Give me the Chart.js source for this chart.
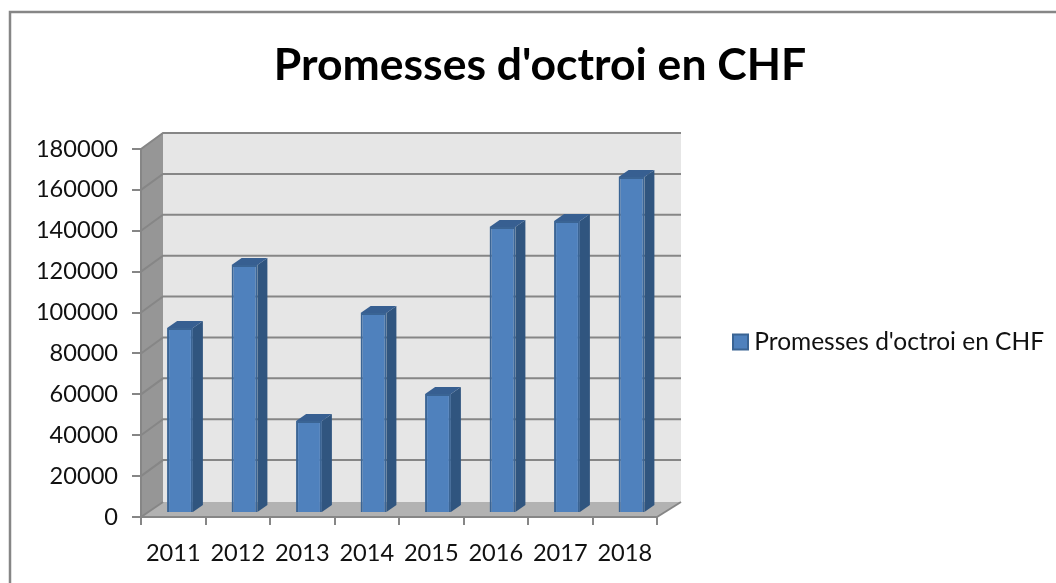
<!DOCTYPE html>
<html><head><meta charset="utf-8">
<style>html,body{margin:0;padding:0;background:#fff;overflow:hidden}#w{position:absolute;left:0;top:0;width:1056px;height:583px}canvas{display:block;filter:blur(0.55px)}</style>
<script src="https://cdn.jsdelivr.net/npm/chart.js@4/dist/chart.umd.min.js"></script>
</head><body><div id="w"><canvas id="c" width="1056" height="583"></canvas></div>
<script>
const categories = ['2011','2012','2013','2014','2015','2016','2017','2018'];
const seriesName = "Promesses d'octroi en CHF";
const seriesValues = [90500,121300,45000,97800,58200,139900,142800,164400];
const yMax = 180000, yStep = 20000;
const font = 'Lato, Carlito, Calibri, sans-serif';
const gridColor = '#868686';

const wall3d = {
  id:'wall3d',
  beforeDraw(chart){
    const {ctx,chartArea:a,scales:{y}} = chart;
    const dx=22, dy=16, extraRight=2;
    ctx.save();
    ctx.strokeStyle='#868686'; ctx.lineWidth=2.5;
    ctx.beginPath(); ctx.moveTo(1056,12); ctx.lineTo(10,12); ctx.lineTo(10,583); ctx.stroke();
    const bx=a.left+dx, br=a.right+dx+extraRight, t=a.top, b=a.bottom;
    ctx.fillStyle='#e6e6e6'; ctx.fillRect(bx,t-dy,br-bx,b-t+1);
    const poly=(c,p)=>{ctx.fillStyle=c;ctx.beginPath();p.forEach((q,i)=>i?ctx.lineTo(q[0],q[1]):ctx.moveTo(q[0],q[1]));ctx.closePath();ctx.fill();};
    poly('#969696',[[a.left,t],[bx,t-dy],[bx,b-dy+1],[a.left,b]]);
    poly('#b2b2b2',[[a.left,b],[bx,b-dy+1],[br,b-dy+1],[a.right,b]]);
    ctx.strokeStyle=gridColor; ctx.lineWidth=2;
    for(let v=yStep;v<=yMax;v+=yStep){
      const py=y.getPixelForValue(v);
      ctx.beginPath(); ctx.moveTo(a.left,py); ctx.lineTo(bx,py-dy); ctx.lineTo(br,py-dy); ctx.stroke();
    }
    ctx.beginPath(); ctx.moveTo(a.left,b); ctx.lineTo(bx,b-dy+1); ctx.stroke();
    ctx.beginPath(); ctx.moveTo(a.right,b); ctx.lineTo(br,b-dy+1); ctx.stroke();
    ctx.restore();
  },
  afterLayout(chart){
    const l=chart.legend;
    l.left=727; l.right=1044; l.top=328; l.bottom=356;
    const tt=chart.titleBlock;
    tt.left=0; tt.right=1080;
  },
  beforeDatasetsDraw(chart){
    const ctx=chart.ctx, dx=6.75, dy=-4, sx=10, sy=7;
    ctx.save();
    ctx.translate(dx,dy);
    chart.getDatasetMeta(0).data.forEach(el=>{
      const {x,y,base,width}=el.getProps(['x','y','base','width']);
      const l=x-width/2, r=x+width/2;
      ctx.fillStyle='#30557f';
      ctx.beginPath(); ctx.moveTo(r,y); ctx.lineTo(r+sx,y-sy); ctx.lineTo(r+sx,base-sy); ctx.lineTo(r,base); ctx.closePath(); ctx.fill();
      ctx.fillStyle='#375f91';
      ctx.beginPath(); ctx.moveTo(l,y); ctx.lineTo(l+sx,y-sy); ctx.lineTo(r+sx,y-sy); ctx.lineTo(r,y); ctx.closePath(); ctx.fill();
    });
  },
  afterDatasetsDraw(chart){ chart.ctx.restore(); }
};

new Chart(document.getElementById('c'),{
  type:'bar',
  data:{labels:categories,datasets:[{label:seriesName,data:seriesValues,backgroundColor:'#4f81bd',borderColor:'#3a6494',borderWidth:2,barPercentage:0.4,categoryPercentage:1,clip:false}]},
  plugins:[wall3d],
  options:{
    responsive:false,animation:false,
    layout:{padding:{left:0,right:399,top:0,bottom:0}},
    plugins:{
      title:{display:true,text:seriesName,color:'#000',font:{family:font,size:44.5,weight:'bold'},padding:{top:39,bottom:56.6}},
      legend:{position:'chartArea',labels:{color:'#111',font:{family:font,size:24.5},boxWidth:15,boxHeight:15,padding:6,textAlign:'right'}},
      tooltip:{enabled:false}
    },
    scales:{
      x:{afterFit(s){s.height=66},grid:{drawOnChartArea:false,color:gridColor,lineWidth:2,tickLength:8,tickColor:gridColor},border:{color:gridColor,width:2},ticks:{color:'#111',font:{family:font,size:23.6},padding:14,maxRotation:0}},
      y:{min:0,max:yMax,afterFit(s){s.width=141},grid:{drawOnChartArea:false,color:gridColor,lineWidth:2,tickLength:9,tickColor:gridColor},border:{color:gridColor,width:2},ticks:{stepSize:yStep,color:'#111',font:{family:font,size:23.6},padding:14,callback:v=>String(v)}}
    }
  }
});
</script></body></html>
